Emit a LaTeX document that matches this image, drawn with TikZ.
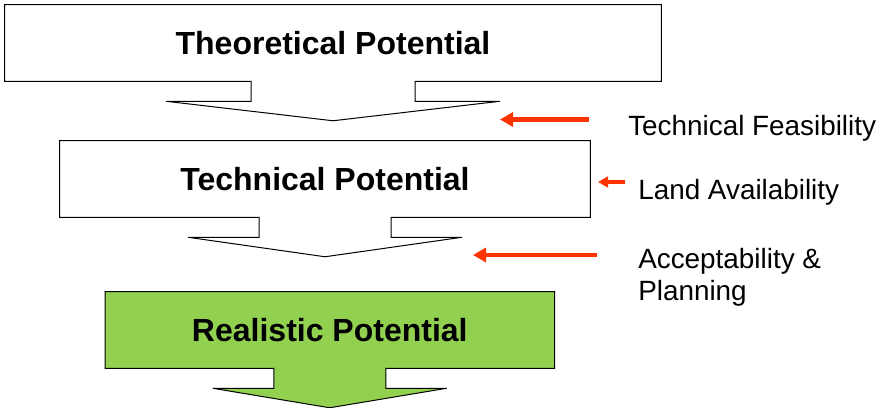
\documentclass[tikz,border=0pt]{standalone}
\usepackage{fontspec}
\setmainfont{Liberation Sans}
\usepackage{tikz}
\usetikzlibrary{arrows.meta,calc,positioning}
\definecolor{realgreen}{RGB}{146,208,80}
\definecolor{factorred}{RGB}{255,51,0}

\begin{document}
\begin{tikzpicture}[
    x=0.75pt, y=-0.75pt,
    potential/.style={rectangle, inner sep=0pt, minimum height=57pt, font=\bfseries\fontsize{24pt}{28pt}\selectfont},
    callout/.style={draw=black, line width=0.75pt, line join=miter},
    factor/.style={anchor=base west, inner sep=0pt, align=left, font=\fontsize{20.9pt}{24pt}\selectfont},
    pull/.style={draw=factorred, line width=3.2pt, -{Triangle[length=9.75pt,width=10.5pt]}},
    smallpull/.style={pull, -{Triangle[length=7.5pt,width=8pt]}},
]
\useasboundingbox (0,0) rectangle (884,407);

% Potential boxes
\node[potential, minimum width=492pt] (theo) at (333,43) {};
\node[potential, minimum width=397.5pt] (tech) at (325,179) {};
\node[potential, minimum width=336.75pt] (real) at (329.8,330) {};

% Down arrow callout outlines
\foreach \n/\s/\w/\c in {theo/82/167/white, tech/66/137/white, real/56/117/realgreen}
  \draw[callout, fill=\c] (\n.north west) -- (\n.north east) -- (\n.south east)
    -- ($(\n.south)+(\s,0)$) -- ($(\n.south)+(\s,20)$) -- ($(\n.south)+(\w,20)$)
    -- ($(\n.south)+(0,39.5)$) -- ($(\n.south)+(-\w,20)$) -- ($(\n.south)+(-\s,20)$)
    -- ($(\n.south)+(-\s,0)$) -- (\n.south west) -- cycle;

% Titles
\node[potential] at (theo) {Theoretical Potential};
\node[potential] at (tech) {Technical Potential};
\node[potential] at (real) {Realistic Potential};

% Factors
\node[factor] (feas) at (628,135) {Technical Feasibility};
\node[factor] (land) at (638,199) {Land Availability};
\node[factor] (accept) at (638,300) {Acceptability \&\\Planning};

% Red arrows
\coordinate (feasfrom) at (589,119.5);
\coordinate (feasto) at (500,119.5);
\coordinate (landfrom) at (625,182);
\coordinate (landto) at (598,182);
\coordinate (acceptfrom) at (597,255);
\coordinate (acceptto) at (473,255);
\draw[pull] (feasfrom) -- (feasto);
\draw[smallpull] (landfrom) -- (landto);
\draw[pull] (acceptfrom) -- (acceptto);

\end{tikzpicture}
\end{document}
